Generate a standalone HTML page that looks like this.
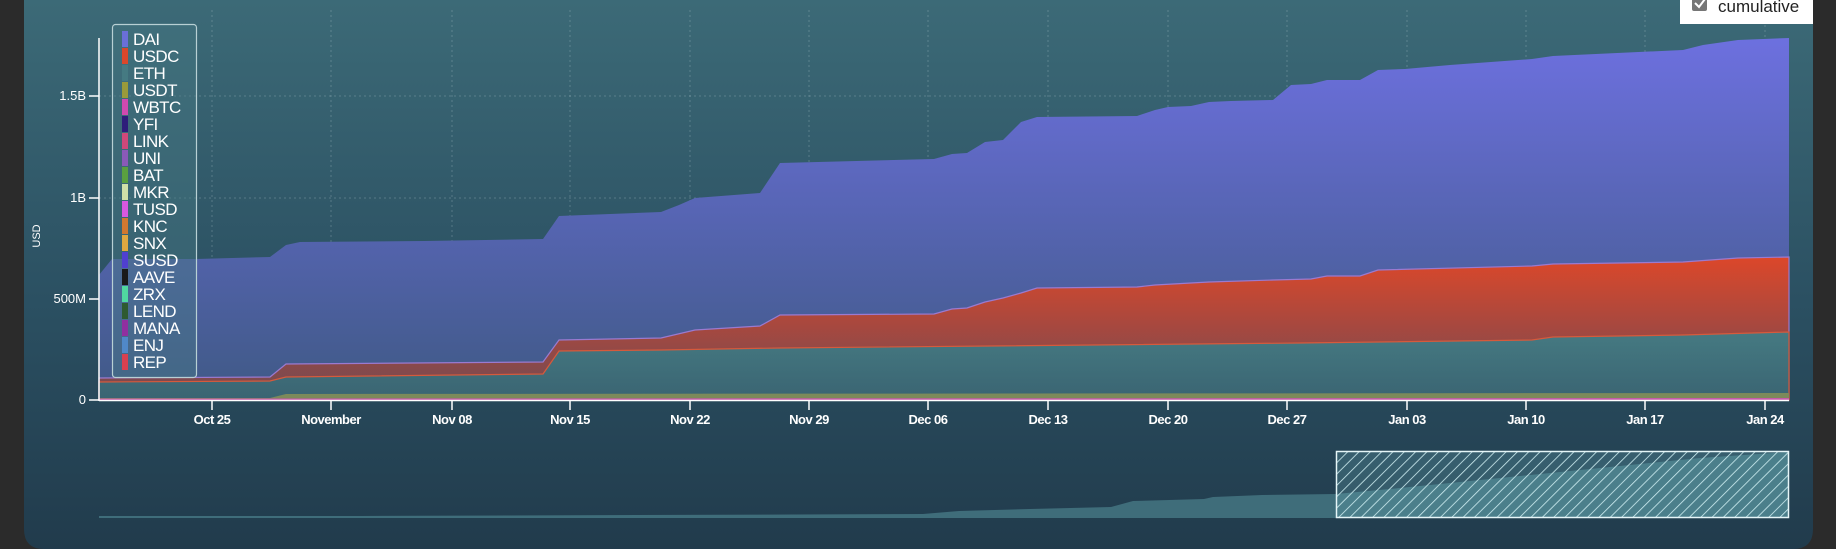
<!DOCTYPE html>
<html><head><meta charset="utf-8"><style>
html,body{margin:0;padding:0;background:#2b2b2b;width:1836px;height:549px;overflow:hidden;font-family:"Liberation Sans",sans-serif}
</style></head><body>
<svg width="1836" height="549" xmlns="http://www.w3.org/2000/svg" style="position:absolute;left:0;top:0">
<defs>
<linearGradient id="bg" x1="0" y1="0" x2="0" y2="1"><stop offset="0" stop-color="#3c6a77"/><stop offset="0.55" stop-color="#2b5062"/><stop offset="1" stop-color="#213b4c"/></linearGradient>
<linearGradient id="dai" x1="0" y1="38" x2="0" y2="400" gradientUnits="userSpaceOnUse"><stop offset="0" stop-color="#6d70df"/><stop offset="1" stop-color="#3f5985"/></linearGradient>
<linearGradient id="usdc" x1="0" y1="257" x2="0" y2="400" gradientUnits="userSpaceOnUse"><stop offset="0" stop-color="#dc472a"/><stop offset="1" stop-color="#6e4a55"/></linearGradient>
<linearGradient id="eth" x1="0" y1="332" x2="0" y2="400" gradientUnits="userSpaceOnUse"><stop offset="0" stop-color="#457a82"/><stop offset="1" stop-color="#3a6472"/></linearGradient>
<pattern id="hatch" width="8" height="8" patternUnits="userSpaceOnUse" patternTransform="rotate(45)"><rect width="8" height="8" fill="rgba(120,190,200,0.22)"/><line x1="0" y1="0" x2="0" y2="8" stroke="#cfeff2" stroke-width="1.6"/></pattern>
</defs>
<rect x="0" y="0" width="1836" height="549" fill="#2b2b2b"/>
<path d="M24,0 H1813 V529 Q1813,549 1793,549 H44 Q24,549 24,529 Z" fill="url(#bg)"/>
<g stroke="rgba(200,220,225,0.25)" stroke-dasharray="2,3" stroke-width="1">
<line x1="212" y1="10" x2="212" y2="400"/><line x1="331" y1="10" x2="331" y2="400"/><line x1="452" y1="10" x2="452" y2="400"/><line x1="570" y1="10" x2="570" y2="400"/><line x1="690" y1="10" x2="690" y2="400"/><line x1="809" y1="10" x2="809" y2="400"/><line x1="928" y1="10" x2="928" y2="400"/><line x1="1048" y1="10" x2="1048" y2="400"/><line x1="1168" y1="10" x2="1168" y2="400"/><line x1="1287" y1="10" x2="1287" y2="400"/><line x1="1407" y1="10" x2="1407" y2="400"/><line x1="1526" y1="10" x2="1526" y2="400"/><line x1="1645" y1="10" x2="1645" y2="400"/><line x1="1765" y1="10" x2="1765" y2="400"/>
<line x1="99" y1="96" x2="1789" y2="96"/><line x1="99" y1="198" x2="1789" y2="198"/><line x1="99" y1="299" x2="1789" y2="299"/>
</g>
<polygon fill="url(#dai)" points="99,400 99,275 112,259 196,259 270,257 286,245 300,242 425,241 543,239 559,216 661,212 679,205 695,198 760,193 780,163 934,159 952,154 967,153 985,142 1003,140 1021,122 1037,117 1137,116 1155,110 1168,107 1191,106 1209,102 1231,101 1273,100 1291,85 1311,84 1327,80 1360,80 1378,70 1405,69 1450,65 1532,59 1553,56 1683,50 1703,45 1738,40 1789,38 1789,400"/>
<polygon fill="url(#usdc)" stroke="#9a7ad0" stroke-width="1.2" points="99,400 99,378 270,377 286,364 543,362 559,340 661,338 695,330 760,326 780,315 934,314 952,309 967,308 985,302 1003,298 1021,293 1037,288 1137,287 1155,285 1209,282 1273,280 1311,279 1327,276 1360,276 1378,270 1532,266 1553,264 1683,262 1738,258 1789,257 1789,400"/>
<polygon fill="url(#eth)" stroke="#d65a3c" stroke-width="1.2" points="99,400 99,382 270,381 286,377 543,374 559,351 661,350 780,348 1300,343 1532,340 1553,337 1683,335 1789,332 1789,400"/>
<polygon fill="#7c8a5a" points="99,400 99,398 270,398 286,394 1789,393 1789,400"/>
<polygon fill="#c45aa8" points="99,400 99,398.5 1789,398 1789,400"/>
<g stroke="#fff" stroke-width="1.5">
<line x1="99" y1="38" x2="99" y2="401"/><line x1="99" y1="400.5" x2="1789" y2="400.5"/>
<line x1="89" y1="96" x2="99" y2="96"/><line x1="89" y1="198" x2="99" y2="198"/><line x1="89" y1="299" x2="99" y2="299"/><line x1="89" y1="400" x2="99" y2="400"/>
<line x1="212" y1="400" x2="212" y2="410"/><line x1="331" y1="400" x2="331" y2="410"/><line x1="452" y1="400" x2="452" y2="410"/><line x1="570" y1="400" x2="570" y2="410"/><line x1="690" y1="400" x2="690" y2="410"/><line x1="809" y1="400" x2="809" y2="410"/><line x1="928" y1="400" x2="928" y2="410"/><line x1="1048" y1="400" x2="1048" y2="410"/><line x1="1168" y1="400" x2="1168" y2="410"/><line x1="1287" y1="400" x2="1287" y2="410"/><line x1="1407" y1="400" x2="1407" y2="410"/><line x1="1526" y1="400" x2="1526" y2="410"/><line x1="1645" y1="400" x2="1645" y2="410"/><line x1="1765" y1="400" x2="1765" y2="410"/>
</g>
<g fill="#fff" font-size="13" text-anchor="end" font-family="Liberation Sans, sans-serif">
<text x="86" y="100">1.5B</text><text x="86" y="202">1B</text><text x="86" y="303">500M</text><text x="86" y="404">0</text>
</g>
<text x="0" y="0" transform="translate(40,236) rotate(-90)" fill="#fff" font-size="11" text-anchor="middle">USD</text>
<g fill="#fff" font-size="13" font-weight="bold" text-anchor="middle" letter-spacing="-0.5">
<text x="212" y="424">Oct 25</text><text x="331" y="424">November</text><text x="452" y="424">Nov 08</text><text x="570" y="424">Nov 15</text><text x="690" y="424">Nov 22</text><text x="809" y="424">Nov 29</text><text x="928" y="424">Dec 06</text><text x="1048" y="424">Dec 13</text><text x="1168" y="424">Dec 20</text><text x="1287" y="424">Dec 27</text><text x="1407" y="424">Jan 03</text><text x="1526" y="424">Jan 10</text><text x="1645" y="424">Jan 17</text><text x="1765" y="424">Jan 24</text>
</g>
<rect x="112.5" y="24.5" width="84" height="353" rx="3" fill="rgba(70,120,130,0.45)" stroke="#b8d0d4" stroke-width="1.2"/>
<g>
<rect x="122" y="31" width="6" height="16" fill="#6a6fd8"/><rect x="122" y="48" width="6" height="16" fill="#d9472b"/><rect x="122" y="65" width="6" height="16" fill="#457a82"/><rect x="122" y="82" width="6" height="16" fill="#9a9a3a"/><rect x="122" y="99" width="6" height="16" fill="#d04ab0"/><rect x="122" y="116" width="6" height="16" fill="#2e1d7a"/><rect x="122" y="133" width="6" height="16" fill="#d0487a"/><rect x="122" y="150" width="6" height="16" fill="#8a5ab8"/><rect x="122" y="167" width="6" height="16" fill="#5aa040"/><rect x="122" y="184" width="6" height="16" fill="#d0e0a8"/><rect x="122" y="201" width="6" height="16" fill="#d858e0"/><rect x="122" y="218" width="6" height="16" fill="#d07830"/><rect x="122" y="235" width="6" height="16" fill="#e0a840"/><rect x="122" y="252" width="6" height="16" fill="#5040d0"/><rect x="122" y="269" width="6" height="16" fill="#1a1a1a"/><rect x="122" y="286" width="6" height="16" fill="#50d8a0"/><rect x="122" y="303" width="6" height="16" fill="#2e5a30"/><rect x="122" y="320" width="6" height="16" fill="#9030a0"/><rect x="122" y="337" width="6" height="16" fill="#5088c8"/><rect x="122" y="354" width="6" height="16" fill="#d84050"/>
</g>
<g fill="#fff" font-size="17" letter-spacing="-0.6">
<text x="133" y="45">DAI</text><text x="133" y="62">USDC</text><text x="133" y="79">ETH</text><text x="133" y="96">USDT</text><text x="133" y="113">WBTC</text><text x="133" y="130">YFI</text><text x="133" y="147">LINK</text><text x="133" y="164">UNI</text><text x="133" y="181">BAT</text><text x="133" y="198">MKR</text><text x="133" y="215">TUSD</text><text x="133" y="232">KNC</text><text x="133" y="249">SNX</text><text x="133" y="266">SUSD</text><text x="133" y="283">AAVE</text><text x="133" y="300">ZRX</text><text x="133" y="317">LEND</text><text x="133" y="334">MANA</text><text x="133" y="351">ENJ</text><text x="133" y="368">REP</text>
</g>
<polygon fill="#3f6d7a" points="99,517 99,516 360,516 923,514 959,511 1030,509 1111,507 1133,501 1204,499 1213,497 1262,495 1336,494 1400,488 1500,478 1600,468 1700,458 1789,452 1789,518 99,518"/>
<rect x="1336.5" y="451.5" width="452" height="66" fill="url(#hatch)" stroke="#e6f6f8" stroke-width="1.5"/>
<rect x="1680" y="-4" width="133" height="28" fill="#fff"/>
<rect x="1692" y="-4" width="15" height="15" rx="2" fill="#767676"/>
<path d="M1695,3 L1699,7 L1705,-1" stroke="#fff" stroke-width="2" fill="none"/>
<text x="1718" y="12" font-size="17" fill="#222">cumulative</text>
</svg>
</body></html>
